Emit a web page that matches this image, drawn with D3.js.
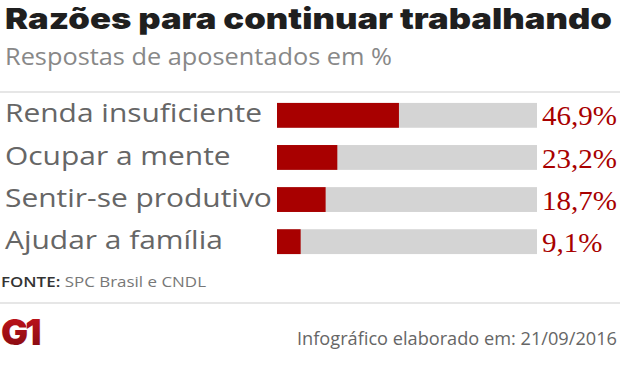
<!DOCTYPE html>
<html>
<head>
<meta charset="utf-8">
<script src="https://cdn.jsdelivr.net/npm/d3@7"></script>
<style>
body{margin:0;background:#fff}
</style>
</head>
<body>
<svg id="svg" width="620" height="388"></svg>
<script>
var categories=["Renda insuficiente","Ocupar a mente","Sentir-se produtivo","Ajudar a família"]
var values=[46.9,23.2,18.7,9.1]
var valueLabels=["46,9%","23,2%","18,7%","9,1%"]

var width=620, height=388
var svg=d3.select("#svg")
var sans="'Open Sans', 'Noto Sans', sans-serif"

//stretch a text sideways so it spans the wanted width
function stretch(sel,k){
    sel.each(function(){
        var w=this.getComputedTextLength()
        d3.select(this).attr("textLength",w*k).attr("lengthAdjust","spacingAndGlyphs")
    })
}
function ratio(sel,target){
    return target/sel.node().getComputedTextLength()
}

//title + subtitle
var title=svg.append("text")
    .attr("x",5).attr("y",29)
    .text("Razões para continuar trabalhando")
    .style("font-family","Inter, Lato, sans-serif")
    .style("font-weight","900")
    .style("font-size","29px")
    .style("fill","#1f1f1f")
stretch(title,ratio(title,607))

var sub=svg.append("text")
    .attr("x",5).attr("y",65)
    .text("Respostas de aposentados em %")
    .style("font-family",sans)
    .style("font-size","24px")
    .style("fill","#888")
stretch(sub,ratio(sub,387))

svg.append("rect").attr("x",0).attr("y",91).attr("width",width).attr("height",2).style("fill","#e6e6e6")
svg.append("rect").attr("x",0).attr("y",302).attr("width",width).attr("height",2).style("fill","#e6e6e6")

//bars
var x=d3.scaleLinear().domain([0,100]).range([277,537])
var y=d3.scaleBand().domain(categories).range([94.5,262.5]).paddingInner(0.41).paddingOuter(0.2)

var row=svg.selectAll("g.row")
    .data(categories)
    .enter().append("g")
      .attr("class","row")
      .attr("transform",d=>"translate(0,"+y(d)+")")

row.append("rect")
    .attr("x",x(0))
    .attr("width",x(100)-x(0))
    .attr("height",y.bandwidth())
    .style("fill","#d4d4d4")

row.append("rect")
    .attr("x",x(0))
    .attr("width",(d,i)=>x(values[i])-x(0))
    .attr("height",y.bandwidth())
    .style("fill","#a80000")

var labels=row.append("text")
    .attr("x",5)
    .attr("y",19.5)
    .text(d=>d)
    .style("font-family",sans)
    .style("font-size","25.5px")
    .style("fill","#666")
stretch(labels,ratio(d3.select(labels.nodes()[0]),257))

var vals=row.append("text")
    .attr("x",x(100)+5)
    .attr("y",22.5)
    .text((d,i)=>valueLabels[i])
    .style("font-family","'Liberation Serif', serif")
    .style("font-size","27px")
    .style("fill","#a80000")
stretch(vals,ratio(d3.select(vals.nodes()[0]),75))

//source
var fonte=svg.append("text")
    .attr("x",1).attr("y",287)
    .style("font-family",sans)
    .style("font-size","15px")
fonte.append("tspan").text("FONTE: ").style("font-weight","600").style("fill","#333")
fonte.append("tspan").text("SPC Brasil e CNDL").style("fill","#777")
stretch(fonte,ratio(fonte,205))

//logo
var grad=svg.append("defs").append("linearGradient")
    .attr("id","g1grad").attr("x1",0).attr("y1",0).attr("x2",0).attr("y2",1)
grad.append("stop").attr("offset","0%").attr("stop-color","#c8141c")
grad.append("stop").attr("offset","100%").attr("stop-color","#7e0a10")

svg.append("text")
    .attr("x",1).attr("y",345)
    .text("G1")
    .style("font-family","Inter, Lato, sans-serif")
    .style("font-weight","900")
    .style("font-size","36px")
    .style("letter-spacing","-3px")
    .style("fill","url(#g1grad)")

var foot=svg.append("text")
    .attr("x",297).attr("y",345)
    .text("Infográfico elaborado em: 21/09/2016")
    .style("font-family",sans)
    .style("font-size","18px")
    .style("fill","#666")
stretch(foot,ratio(foot,320))
</script>
</body>
</html>
